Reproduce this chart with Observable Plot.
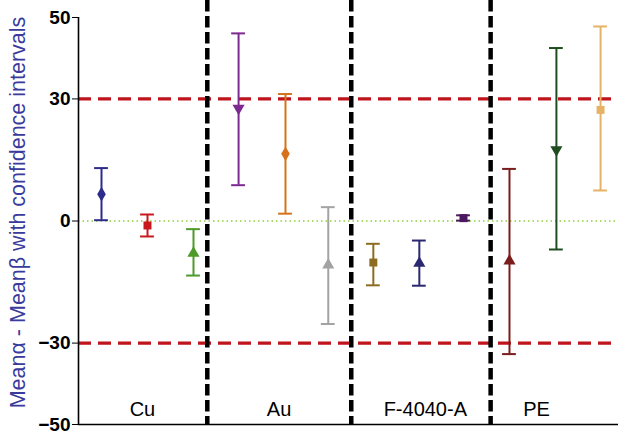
<!DOCTYPE html>
<html><head><meta charset="utf-8">
<script src="https://cdn.jsdelivr.net/npm/d3@7"></script>
<script src="https://cdn.jsdelivr.net/npm/@observablehq/plot@0.6"></script>
<style>
html,body{margin:0;padding:0;background:#fff;}
svg{font-family:"Liberation Sans",Arial,sans-serif;}
g[aria-label="y-axis tick label"] text{font-weight:bold;}
</style>
</head><body>
<div id="chart"></div>
<script>
const categories = ["Cu", "Au", "F-4040-A", "PE"];
const categoryLabelSlots = [1.39, 4.36, 7.54, 9.96];
const dividerSlots = [2.8, 5.93, 8.96];
const slots = [0.5, 1.5, 2.5, 3.48, 4.5, 5.43, 6.41, 7.41, 8.37, 9.37, 10.39, 11.35];
const means  = [6.6, -1.1, -7.9, 27.7, 16.5, -10.8, -10.2, -10.4, 0.7, -9.8, 17.5, 27.3];
const lowers = [0.2, -3.8, -13.4, 8.8, 1.8, -25.3, -15.8, -15.9, 0.1, -32.7, -7.0, 7.5];
const uppers = [13.0, 1.6, -2.0, 46.1, 31.2, 3.4, -5.6, -4.8, 1.4, 12.8, 42.5, 47.8];
const colors = ["#2e2b8a", "#c8181e", "#4c9a2a", "#7d2a90", "#d5731c", "#a3a3a3", "#8c6d1f", "#2a2870", "#4b1a5e", "#7b1c1c", "#1f4d1f", "#e6b366"];
const symbols = ["diamond", "square", "triangle", "triangle", "diamond", "triangle", "square", "triangle", "square", "triangle", "triangle", "square"];
const rotations = [0, 0, 0, 180, 0, 0, 0, 0, 0, 0, 180, 0];
const yTicks = [50, 30, 0, -30, -50];
const limits = [-30, 30];
const yLabel = "Meanα - Meanβ with confidence intervals";

const data = slots.map((s, i) => ({slot: s, mean: means[i], lo: lowers[i], hi: uppers[i], color: colors[i], symbol: symbols[i], rot: rotations[i]}));
const cap = 0.15;

const chart = Plot.plot({
  width: 618,
  height: 435,
  marginLeft: 78,
  marginRight: 0,
  marginTop: 0,
  marginBottom: 11,
  x: {domain: [0, 11.74], axis: null},
  y: {domain: [-50, 54.18], axis: null},
  marks: [
    Plot.ruleY([0], {stroke: "#8fcf3f", strokeWidth: 1.6, strokeDasharray: "1.5,3"}),
    Plot.ruleY(limits, {stroke: "#c0141c", strokeWidth: 3.2, strokeDasharray: "13,7"}),
    Plot.ruleX(dividerSlots, {stroke: "#000", strokeWidth: 4.5, strokeDasharray: "11.5,4.5"}),
    Plot.ruleX(data, {x: "slot", y1: "lo", y2: "hi", stroke: "color", strokeWidth: 2}),
    Plot.ruleY(data, {y: "hi", x1: d => d.slot - cap, x2: d => d.slot + cap, stroke: "color", strokeWidth: 2}),
    Plot.ruleY(data, {y: "lo", x1: d => d.slot - cap, x2: d => d.slot + cap, stroke: "color", strokeWidth: 2}),
    Plot.dot(data, {x: "slot", y: "mean", fill: "color", symbol: "symbol", rotate: "rot", r: 4.5}),
    Plot.ruleX([0], {y1: Math.min(...yTicks), y2: Math.max(...yTicks), stroke: "#000", strokeWidth: 1.6}),
    Plot.ruleY([Math.min(...yTicks)], {stroke: "#000", strokeWidth: 1.6}),
    Plot.axisY({ticks: yTicks, tickSize: 6, tickPadding: 2, fontSize: 19, label: null, tickFormat: d3.format("")}),
    Plot.text(categories, {x: (d, i) => categoryLabelSlots[i], y: -46.3, text: d => d, fontSize: 20, fill: "#000"}),
    Plot.text([yLabel], {frameAnchor: "left", textAnchor: "middle", rotate: -90, dx: -60, fontSize: 21.5, fill: "#3a3a9c"})
  ]
});
document.getElementById("chart").appendChild(chart);
</script>
</body></html>
